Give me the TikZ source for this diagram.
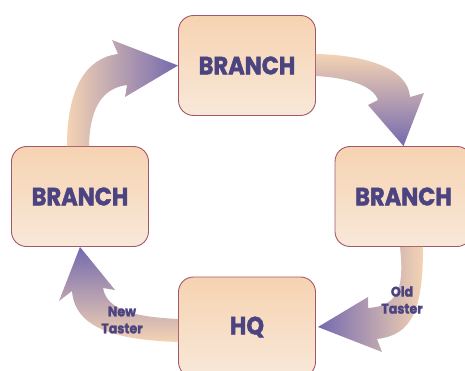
\documentclass[tikz,border=0pt]{standalone}
\usepackage{fontspec}
\setmainfont{Poppins}[FakeStretch=0.9, BoldFeatures={FakeBold=1.6}]
\usetikzlibrary{calc}

\definecolor{peach}{HTML}{F4D3B3}
\definecolor{lav}{HTML}{7469AE}
\definecolor{ink}{HTML}{4B4480}
\definecolor{boxtop}{HTML}{F6D3B1}
\definecolor{boxbot}{HTML}{F8E8D9}
\definecolor{rim}{HTML}{A3586A}

\begin{document}
\begin{tikzpicture}[x=1pt, y=-1pt,
  every node/.style={text=ink},
  box/.style={rectangle, rounded corners=15pt, draw=rim, line width=.9pt, top color=boxtop, bottom color=boxbot,
    minimum width=137pt, minimum height=100pt, font=\bfseries\fontsize{25}{25}\selectfont},
  tag/.style={align=center, inner sep=0pt, font=\bfseries\fontsize{14}{17}\selectfont}]
  \useasboundingbox (0,0) rectangle (465,371);
  \clip (0,0) rectangle (465,371);
  \node (b1) [box] at (247,65.5) {BRANCH};
  \node (b2) [box] at (80,196.5) {BRANCH};
  \node (b3) [box] at (403.5,196.5) {BRANCH};
  \node (hq) [box] at (247,327) {HQ};
  \shade[left color=peach, right color=lav]
    ($(b2.north)+(-13,0)$) .. controls (67,90) and (85,58) .. (118,54) -- (112,40) -- (b1.west)
    -- (125,97) -- (127,85) .. controls (104,88) and (90,105) .. ($(b2.north)+(9,0)$) -- cycle;
  \shade[top color=peach, bottom color=lav]
    ($(b1.east)+(0,-11.5)$) .. controls (365,55) and (408,68) .. (410,97) -- (424,93) -- (b3.north)
    -- (368,105) -- (378,100) .. controls (373,86) and (350,78) .. ($(b1.east)+(0,10.5)$) -- cycle;
  \shade[left color=lav, right color=peach]
    ($(b3.south)+(-3.5,0)$) .. controls (404,285) and (400,306) .. (368,308) -- (368,297) -- ($(hq.east)+(2,0)$)
    -- (382,352) -- (377,339) .. controls (412,335) and (423,310) .. ($(b3.south)+(19.5,0)$) -- cycle;
  \shade[top color=lav, bottom color=peach]
    ($(hq.west)+(0,-8)$) .. controls (140,317) and (107,312) .. (103,288) -- (115,290) -- (b2.south)
    -- (59,301) -- (72,291) .. controls (75,330) and (120,340) .. ($(hq.west)+(0,15)$) -- cycle;
  \node (new) [tag] at (122,320) {New\\Taster};
  \node (old) [tag] at (402,300) {Old\\Taster};
\end{tikzpicture}
\end{document}
